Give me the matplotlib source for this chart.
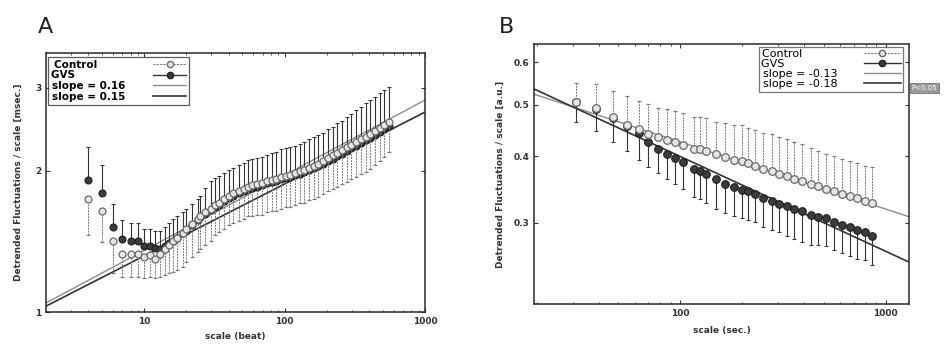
import numpy as np
import matplotlib
matplotlib.use("Agg")
import matplotlib.pyplot as plt
from matplotlib.lines import Line2D
from matplotlib.ticker import FixedLocator, NullLocator, FixedFormatter

# ---- panel A: heart beat scale ----
scale_a = [4, 5, 6, 7, 8, 9, 10, 11, 12, 13, 14, 15, 16,
           17, 19, 20, 22, 24, 25, 27, 30, 32, 34,
           37, 40, 43, 47, 51, 55, 59, 64, 69, 75,
           81, 87, 94, 102, 110, 119, 128, 138, 149, 161,
           174, 188, 203, 220, 237, 256, 277, 299, 323, 349,
           377, 407, 440, 475, 513, 554]
ctrl_a = [1.74, 1.64, 1.42, 1.33, 1.33, 1.33, 1.31, 1.32, 1.30, 1.33, 1.36, 1.39, 1.42,
          1.44, 1.47, 1.50, 1.54, 1.58, 1.60, 1.63, 1.66, 1.69, 1.71,
          1.74, 1.77, 1.79, 1.81, 1.83, 1.85, 1.86, 1.87, 1.88, 1.90,
          1.91, 1.92, 1.94, 1.95, 1.96, 1.98, 2.00, 2.01, 2.03, 2.05,
          2.07, 2.10, 2.13, 2.16, 2.18, 2.21, 2.24, 2.27, 2.30, 2.33,
          2.36, 2.39, 2.43, 2.46, 2.50, 2.54]
gvs_a = [1.91, 1.79, 1.52, 1.43, 1.42, 1.42, 1.38, 1.38, 1.37, 1.36, 1.38, 1.40, 1.42,
         1.44, 1.47, 1.49, 1.53, 1.57, 1.59, 1.62, 1.65, 1.67, 1.69,
         1.72, 1.75, 1.77, 1.79, 1.81, 1.83, 1.84, 1.85, 1.86, 1.88,
         1.89, 1.90, 1.92, 1.93, 1.94, 1.96, 1.97, 1.99, 2.01, 2.03,
         2.05, 2.07, 2.10, 2.12, 2.15, 2.17, 2.20, 2.23, 2.26, 2.29,
         2.32, 2.35, 2.38, 2.42, 2.45, 2.49]
# control bars point down, GVS bars point up
ctrl_err_a = [0.28, 0.23, 0.21, 0.14, 0.14, 0.14, 0.13, 0.13, 0.12, 0.14, 0.16, 0.18, 0.20,
              0.21, 0.22, 0.22, 0.23, 0.24, 0.24, 0.24, 0.24, 0.23, 0.23,
              0.24, 0.24, 0.24, 0.25, 0.25, 0.25, 0.26, 0.26, 0.27, 0.27,
              0.27, 0.28, 0.28, 0.28, 0.29, 0.29, 0.29, 0.30, 0.30, 0.31,
              0.31, 0.32, 0.32, 0.33, 0.33, 0.34, 0.35, 0.35, 0.36, 0.36,
              0.37, 0.37, 0.37, 0.36, 0.36, 0.35]
gvs_err_a = [0.34, 0.27, 0.18, 0.14, 0.13, 0.13, 0.12, 0.12, 0.12, 0.13, 0.14, 0.15, 0.16,
             0.16, 0.16, 0.17, 0.17, 0.17, 0.18, 0.22, 0.25, 0.26, 0.26,
             0.26, 0.26, 0.26, 0.27, 0.27, 0.28, 0.28, 0.28, 0.28, 0.28,
             0.29, 0.29, 0.30, 0.30, 0.30, 0.30, 0.31, 0.31, 0.32, 0.33,
             0.33, 0.34, 0.35, 0.36, 0.37, 0.38, 0.40, 0.41, 0.43, 0.44,
             0.46, 0.47, 0.49, 0.50, 0.52, 0.53]
# fit lines y = k * x**slope  (control, GVS)
fit_k_a = [0.936, 0.926]
fit_slope_a = [0.16, 0.153]
fit_labels_a = ["slope = 0.16", "slope = 0.15"]

# ---- panel B: time scale ----
scale_b = [31, 39, 47, 55, 63, 70, 78, 86, 94, 103,
           117, 125, 134, 150, 166, 182, 200, 215, 232, 254,
           280, 302, 330, 357, 392, 431, 467, 510, 559, 614,
           670, 727, 790, 862]
ctrl_b = [0.506, 0.492, 0.473, 0.457, 0.449, 0.440, 0.434, 0.429, 0.425, 0.419,
          0.413, 0.412, 0.409, 0.403, 0.398, 0.394, 0.392, 0.388, 0.383, 0.378,
          0.375, 0.371, 0.367, 0.363, 0.359, 0.355, 0.352, 0.347, 0.344, 0.340,
          0.337, 0.334, 0.330, 0.327]
gvs_b = [0.506, 0.490, 0.472, 0.455, 0.442, 0.425, 0.413, 0.403, 0.397, 0.390,
         0.378, 0.375, 0.370, 0.362, 0.355, 0.350, 0.346, 0.344, 0.340, 0.334,
         0.329, 0.326, 0.322, 0.319, 0.315, 0.310, 0.308, 0.306, 0.301, 0.297,
         0.294, 0.291, 0.288, 0.283]
# here control bars point up, GVS bars point down
ctrl_err_b = [0.043, 0.054, 0.058, 0.062, 0.059, 0.061, 0.058, 0.061, 0.062, 0.064,
              0.060, 0.062, 0.062, 0.061, 0.063, 0.064, 0.065, 0.064, 0.065, 0.065,
              0.065, 0.064, 0.063, 0.062, 0.062, 0.060, 0.058, 0.057, 0.057, 0.056,
              0.055, 0.055, 0.054, 0.054]
gvs_err_b = [0.043, 0.044, 0.046, 0.046, 0.048, 0.043, 0.041, 0.040, 0.043, 0.043,
             0.043, 0.042, 0.043, 0.044, 0.042, 0.041, 0.040, 0.040, 0.039, 0.039,
             0.038, 0.038, 0.039, 0.039, 0.039, 0.037, 0.036, 0.035, 0.034, 0.034,
             0.034, 0.034, 0.033, 0.033]
fit_k_b = [0.760, 0.907]
fit_slope_b = [-0.126, -0.178]
fit_labels_b = ["slope = -0.13", "slope = -0.18"]

C_LINE = "#8c8c8c"
C_CTRL = "#7a7a7a"
C_GVS = "#333333"
FS = 6.5

plt.rcParams["font.family"] = ["DejaVu Sans"]
fig = plt.figure(figsize=(9.53, 3.46), dpi=100)
axA = fig.add_axes([0.0483, 0.098, 0.3977, 0.749])
axB = fig.add_axes([0.5603, 0.121, 0.3935, 0.752])


def draw_panel(ax, x, ctrl, gvs, cerr, gerr, fk, fs, xlim, ms, ctrl_up):
    xl = np.logspace(np.log10(xlim[0]), np.log10(xlim[1]), 50)
    ax.plot(xl, fk[0] * xl ** fs[0], color=C_LINE, lw=1.0, zorder=2)
    ax.plot(xl, fk[1] * xl ** fs[1], color=C_GVS, lw=1.2, zorder=2)
    zeros = [0] * len(x)
    if ctrl_up:
        cy, gy = [zeros, cerr], [gerr, zeros]
    else:
        cy, gy = [cerr, zeros], [zeros, gerr]
    ax.errorbar(x, gvs, yerr=gy, fmt="o", ms=ms, mfc="#3c3c3c",
                mec="#1e1e1e", mew=0.8, ecolor=C_GVS, elinewidth=0.8,
                capsize=1.6, capthick=0.8, zorder=3)
    e2 = ax.errorbar(x, ctrl, yerr=cy, fmt="o", ms=ms, mfc="#e6e6e6",
                     mec="#6a6a6a", mew=0.9, ecolor=C_CTRL, elinewidth=0.7,
                     capsize=1.6, capthick=0.7, zorder=4)
    e2[2][0].set_linestyle((0, (2, 1)))
    ax.set_xscale("log")
    ax.set_yscale("log")
    ax.set_xlim(*xlim)
    h_ctrl = Line2D([], [], color=C_CTRL, ls=(0, (2, 1)), lw=0.8, marker="o",
                    ms=4.5, mfc="#e6e6e6", mec="#6a6a6a")
    h_gvs = Line2D([], [], color=C_GVS, lw=1.0, marker="o", ms=4.5, mfc="#3c3c3c",
                   mec="#1e1e1e")
    h_f1 = Line2D([], [], color=C_LINE, lw=1.0)
    h_f2 = Line2D([], [], color=C_GVS, lw=1.2)
    return [h_ctrl, h_gvs, h_f1, h_f2]


hA = draw_panel(axA, scale_a, ctrl_a, gvs_a, ctrl_err_a, gvs_err_a,
                fit_k_a, fit_slope_a, (2, 1000), 5, False)
axA.set_ylim(1, 3.56)
axA.yaxis.set_major_locator(FixedLocator([1, 2, 3]))
axA.yaxis.set_major_formatter(FixedFormatter(["1", "2", "3"]))
axA.yaxis.set_minor_locator(NullLocator())
axA.set_xticks([10, 100, 1000])
axA.set_xticklabels(["10", "100", "1000"])
axA.set_xlabel("scale (beat)", fontsize=FS, fontweight="bold", color="#333333", labelpad=4)
axA.set_ylabel("Detrended Fluctuations / scale [msec.]", fontsize=FS, fontweight="bold",
               color="#333333", labelpad=9)

hB = draw_panel(axB, scale_b, ctrl_b, gvs_b, ctrl_err_b, gvs_err_b,
                fit_k_b, fit_slope_b, (19.4, 1300), 5.5, True)
axB.set_ylim(0.211, 0.65)
axB.yaxis.set_major_locator(FixedLocator([0.3, 0.4, 0.5, 0.6]))
axB.yaxis.set_major_formatter(FixedFormatter(["0.3", "0.4", "0.5", "0.6"]))
axB.yaxis.set_minor_locator(NullLocator())
axB.set_xticks([100, 1000])
axB.set_xticklabels(["100", "1000"])
axB.set_xlabel("scale (sec.)", fontsize=FS, fontweight="bold", color="#333333", labelpad=6)
axB.set_ylabel("Detrended Fluctuations / scale [a.u.]", fontsize=FS, fontweight="bold",
               color="#333333", labelpad=6)

for ax in (axA, axB):
    ax.tick_params(which="both", direction="in", top=True, right=True,
                   labelsize=FS, colors="#333333")
    ax.tick_params(which="major", length=3)
    ax.tick_params(which="minor", length=1.5)
    for s in ax.spines.values():
        s.set_color("#2a2a2a")
        s.set_linewidth(1.1)
    for t in ax.get_xticklabels() + ax.get_yticklabels():
        t.set_fontweight("bold")

# trailing spaces keep the labels left aligned, handles on the right
legA = axA.legend(hA, ["Control" + " " * 8, "GVS" + " " * 14] + fit_labels_a,
                  loc="upper left", bbox_to_anchor=(0.005, 0.985),
                  borderaxespad=0, markerfirst=False, handlelength=3.2,
                  handletextpad=2.6, labelspacing=0.05, borderpad=0.3,
                  fancybox=False, edgecolor="#333333", prop={"weight": "bold", "size": 7.5})
legA.get_frame().set_linewidth(0.9)
legB = axB.legend(hB, ["Control" + " " * 10, "GVS" + " " * 15] + fit_labels_b,
                  loc="upper right", bbox_to_anchor=(0.985, 0.99),
                  borderaxespad=0, markerfirst=False, handlelength=3.3,
                  handletextpad=2.4, labelspacing=0.0, borderpad=0.25,
                  fancybox=False, edgecolor="#555555", prop={"size": 8})
legB.get_frame().set_linewidth(0.9)

fig.text(0.040, 0.905, "A", fontsize=16, color="#222222")
fig.text(0.524, 0.905, "B", fontsize=16, color="#222222")
fig.text(0.970, 0.745, "P<0.05", fontsize=5, color="white", ha="center", va="center",
         bbox=dict(boxstyle="square,pad=0.3", fc="#9a9a9a", ec="#777777", lw=0.6))

fig.savefig("out.png", dpi=100)
